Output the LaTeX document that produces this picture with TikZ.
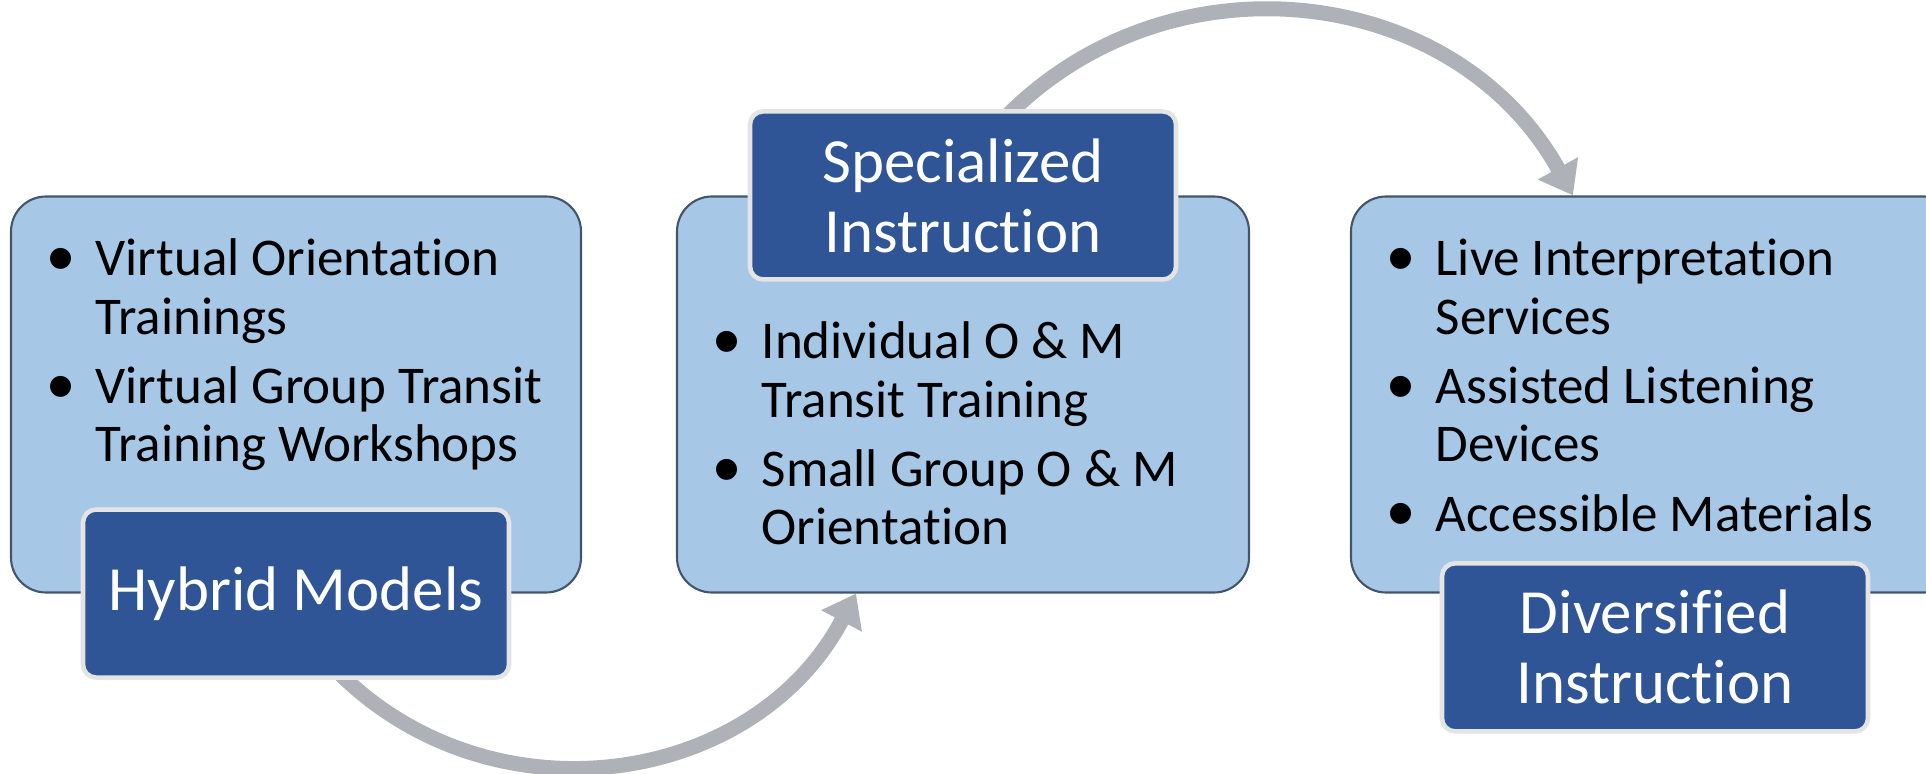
\documentclass[tikz,border=0pt]{standalone}
\usepackage{fontspec}
\setmainfont{Carlito}[Ligatures=NoCommon]
\newfontfamily\bulletfont{Liberation Sans}
\usepackage{xcolor}
\usepackage{tikz}
\usetikzlibrary{arrows.meta, positioning, backgrounds}
\definecolor{panelfill}{HTML}{A7C7E7}
\definecolor{paneldraw}{HTML}{44546A}
\definecolor{headfill}{HTML}{2F5597}
\definecolor{headdraw}{HTML}{E4E4E4}
\definecolor{arcgrey}{HTML}{AEB1B8}
\newcommand{\itembullet}{\makebox[0.47cm][l]{\hspace{0.12cm}\makebox[0pt][c]{\raisebox{-2.4pt}{\fontsize{22pt}{22pt}\bulletfont\textbullet}}}}
\tikzstyle{panel} = [rectangle, rounded corners=0.35cm, minimum width=5.7cm, minimum height=3.96cm, draw=paneldraw, line width=0.6pt, fill=panelfill]
\tikzstyle{heading} = [rectangle, rounded corners=0.13cm, minimum width=4.26cm, minimum height=1.68cm, draw=headdraw, line width=1.3pt, fill=headfill, text=white, align=center, font=\fontsize{17.9pt}{19.9pt}\selectfont]
\tikzstyle{items} = [anchor=north west, inner sep=0pt, text=black, font=\fontsize{15.1pt}{16.6pt}\selectfont]
\tikzstyle{arrow} = [draw=arcgrey, line width=0.15cm, -{Triangle[width=0.44cm, length=0.31cm]}]

\begin{document}
\begin{tikzpicture}[node distance=0.5cm, auto]
    \useasboundingbox (0,0) rectangle (19.26,-7.74);
    \node[panel] (hybridpanel) at (2.96,-3.945) {};
    \node[panel, minimum width=5.72cm] (specialpanel) at (9.63,-3.945) {};
    \node[panel, minimum width=6.08cm] (diversepanel) at (16.55,-3.945) {};

    \node[heading] (hybrid) at (hybridpanel.south) {Hybrid Models};
    \node[heading] (special) at (specialpanel.north) {Specialized\\Instruction};
    \node[heading, below=-0.325cm of diversepanel.south] (diverse) {Diversified\\Instruction};

    \node[items] (hybridlist) at ([shift={(0.38,-0.39)}]hybridpanel.north west) {%
        \begin{tabular}{@{}l@{}l@{}}
            \itembullet & Virtual Orientation\\
                        & Trainings\\[3.1pt]
            \itembullet & Virtual Group Transit\\
                        & Training Workshops
        \end{tabular}};
    \node[items] (speciallist) at ([shift={(0.38,-1.22)}]specialpanel.north west) {%
        \begin{tabular}{@{}l@{}l@{}}
            \itembullet & Individual O \& M\\
                        & Transit Training\\[3.1pt]
            \itembullet & Small Group O \& M\\
                        & Orientation
        \end{tabular}};
    \node[items] (diverselist) at ([shift={(0.38,-0.39)}]diversepanel.north west) {%
        \begin{tabular}{@{}l@{}l@{}}
            \itembullet & Live Interpretation\\
                        & Services\\[3.1pt]
            \itembullet & Assisted Listening\\
                        & Devices\\[3.1pt]
            \itembullet & Accessible Materials
        \end{tabular}};

    \begin{scope}[on background layer]
        \draw[arrow] ([shift={(0.385,0.115)}]hybrid.south) to[bend right=54, looseness=1.07] ([xshift=-1.07cm]specialpanel.south);
        \draw[arrow] ([shift={(0.265,-0.255)}]special.north) to[bend left=55, looseness=1.085] ([xshift=2.23cm]diversepanel.north west);
    \end{scope}
\end{tikzpicture}
\end{document}
